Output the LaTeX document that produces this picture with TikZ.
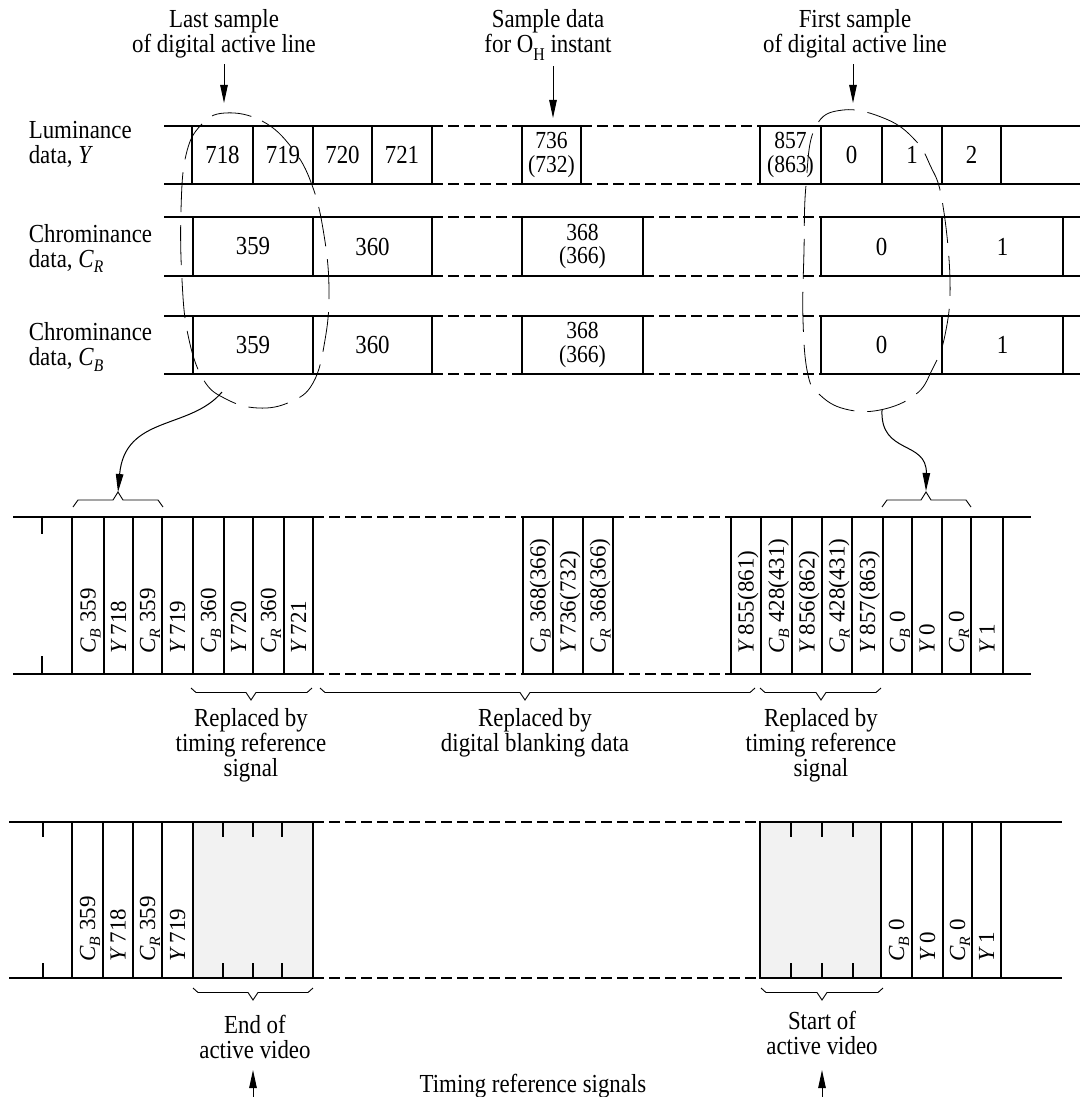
\documentclass[tikz,border=0pt]{standalone}
\usepackage{fontspec}
\setmainfont{Liberation Serif}[FakeStretch=0.88]
\newfontfamily\rotfont{Liberation Serif}
\usetikzlibrary{arrows.meta}
\newcommand{\sbL}[1]{\raisebox{-0.22em}{\fontsize{0.68em}{0.68em}\selectfont\textit{#1}}}
\newcommand{\CB}{\textit{C}\sbL{B}}
\newcommand{\CR}{\textit{C}\sbL{R}}
\newcommand{\YY}{\textit{Y}\,}
\newcommand{\braceDown}[4]{\draw[thinl] (#1,#4) -- ({#1+5},{#4+4.5}) -- ({#3-5},{#4+4.5}) -- (#3,{#4+12}) -- ({#3+5},{#4+4.5}) -- ({#2-5},{#4+4.5}) -- (#2,#4);}
\newcommand{\braceUp}[4]{\draw[thinl] (#1,#4) -- ({#1+5},{#4-7}) -- ({#3-5},{#4-7}) -- (#3,{#4-15}) -- ({#3+5},{#4-7}) -- ({#2-5},{#4-7}) -- (#2,#4);}
\begin{document}
\begin{tikzpicture}[x=1pt,y=-1pt,
  thk/.style={line width=2.6pt},
  vthk/.style={line width=2.6pt, line cap=rect},
  dsh/.style={line width=2.6pt, dash pattern=on 11pt off 5pt},
  ell/.style={line width=0.8pt, dash pattern=on 40pt off 13pt},
  thinl/.style={line width=0.9pt},
  arr/.style={line width=1pt, -{Triangle[length=18pt,width=7.5pt]}},
  txt/.style={font=\fontsize{26}{25}\selectfont, inner sep=0pt, align=center},
  num/.style={font=\fontsize{26}{23}\selectfont, inner sep=0pt, align=center},
  num2/.style={font=\fontsize{24.5}{23.5}\selectfont, inner sep=0pt, align=center},
  rot/.style={font=\rotfont\fontsize{23}{23}\selectfont, inner sep=0pt, rotate=90, anchor=base west},
  graybox/.style={fill=black!5, draw=none}]
\useasboundingbox (0,0) rectangle (1080,1097);

% ---------- top labels ----------
\node[txt, anchor=north] (lastlbl) at (224,9) {Last sample\\of digital active line};
\node[txt, anchor=north] (smplbl) at (548,9) {Sample data\\for O\raisebox{-0.3em}{\fontsize{18}{18}\selectfont H} instant};
\node[txt, anchor=north] (firstlbl) at (855,9) {First sample\\of digital active line};
\coordinate (tA) at (224,103);
\coordinate (tB) at (553,118);
\coordinate (tC) at (853,103);
\draw[arr, shorten <=6pt] (tA |- lastlbl.south) -- (tA);
\draw[arr, shorten <=6pt] (tB |- smplbl.south) -- (tB);
\draw[arr, shorten <=6pt] (tC |- firstlbl.south) -- (tC);

% ---------- row labels ----------
\node[txt, align=left, anchor=north west] (lumlbl) at (28.6,121) {Luminance\\data, \textit{Y}};
\node[txt, align=left, anchor=north west] (crlbl) at (28.6,224) {Chrominance\\data, \CR};
\node[txt, align=left, anchor=north west] (cblbl) at (28.6,322.5) {Chrominance\\data, \CB};

% ---------- Y row ----------
\foreach \a/\b/\s in {164/432/thk, 432/522/dsh, 522/581/thk, 581/760/dsh, 760/1080/thk}
  {\draw[\s] (\a,126) -- (\b,126); \draw[\s] (\a,184) -- (\b,184);}
\foreach \x in {192,253,313,372,432,522,581,760,821,882,942,1001}
  \draw[vthk] (\x,126) -- (\x,184);
\node[num] (y718) at (222.5,155) {718};
\node[num] (y719) at (283,155) {719};
\node[num] (y720) at (342.5,155) {720};
\node[num] (y721) at (402,155) {721};
\node[num2] (y736) at (551.5,155) {736\\(732)};
\node[num2] (y857) at (790.5,155) {857\\(863)};
\node[num] (y0) at (851.5,155) {0};
\node[num] (y1) at (912,155) {1};
\node[num] (y2) at (971.5,155) {2};

% ---------- CR row ----------
\foreach \a/\b/\s in {164/432/thk, 432/522/dsh, 522/643/thk, 643/821/dsh, 821/1080/thk}
  {\draw[\s] (\a,217) -- (\b,217); \draw[\s] (\a,276) -- (\b,276);}
\foreach \x in {193,313,432,522,643,821,942,1063}
  \draw[vthk] (\x,217) -- (\x,276);
\node[num] (r359) at (253,246.5) {359};
\node[num] (r360) at (372.5,246.5) {360};
\node[num2] (r368) at (582.5,246.5) {368\\(366)};
\node[num] (r0) at (881.5,246.5) {0};
\node[num] (r1) at (1002.5,246.5) {1};

% ---------- CB row ----------
\foreach \a/\b/\s in {164/432/thk, 432/522/dsh, 522/643/thk, 643/821/dsh, 821/1080/thk}
  {\draw[\s] (\a,316) -- (\b,316); \draw[\s] (\a,374) -- (\b,374);}
\foreach \x in {193,313,432,522,643,821,942,1063}
  \draw[vthk] (\x,316) -- (\x,374);
\node[num] (b359) at (253,345) {359};
\node[num] (b360) at (372.5,345) {360};
\node[num2] (b368) at (582.5,345) {368\\(366)};
\node[num] (b0) at (881.5,345) {0};
\node[num] (b1) at (1002.5,345) {1};

% ---------- dashed ellipses ----------
\draw[ell] plot[smooth cycle, tension=0.7] coordinates {(225,113) (262,121) (292,148) (312,185) (324,235) (329,290) (325,340) (313,383) (290,402) (258,408) (226,399) (203,379) (188,335) (182,280) (181,210) (186,155) (201,125)};
\draw[ell] plot[smooth cycle, tension=0.7] coordinates {(843,110) (886,119) (915,140) (930,165) (942,200) (950,280) (945,335) (932,370) (915,395) (880,410) (845,409) (820,395) (808,375) (803,320) (804,250) (806,185) (815,128)};

% ---------- connectors to multiplexed row ----------
\coordinate (ellL) at (222,392);
\coordinate (brL) at (118,492);
\coordinate (ellR) at (882,410);
\coordinate (brR) at (926,491);
\draw[arr] (ellL) .. controls (190,430) and (125,415) .. (brL);
\draw[arr] (ellR) .. controls (880,455) and (927,440) .. (brR);
\braceUp{73}{163}{118}{507}
\braceUp{882}{971}{926}{507}

% ---------- multiplexed row ----------
\foreach \a/\b/\s in {13/313/thk, 313/523/dsh, 523/613/thk, 613/731/dsh, 731/1031/thk}
  {\draw[\s] (\a,517) -- (\b,517); \draw[\s] (\a,674) -- (\b,674);}
\foreach \x in {72,104,133,162,193,224,253,284,313,523,553,583,613,731,761,792,822,852,883,912,942,971,1003}
  \draw[vthk] (\x,517) -- (\x,674);
\draw[vthk] (42,517) -- (42,533);
\draw[vthk] (42,657) -- (42,674);
\foreach \xc/\t [count=\i] in {88/{\CB\ 359}, 118.5/{\YY718}, 147.5/{\CR\ 359}, 177.5/{\YY719},
   208.5/{\CB\ 360}, 238.5/{\YY720}, 268.5/{\CR\ 360}, 298.5/{\YY721},
   538/{\CB\ 368(366)}, 568/{\YY736(732)}, 598/{\CR\ 368(366)},
   746/{\YY855(861)}, 776.5/{\CB\ 428(431)}, 807/{\YY856(862)}, 837/{\CR\ 428(431)}, 867.5/{\YY857(863)},
   897.5/{\CB\ 0}, 927/{\YY0}, 956.5/{\CR\ 0}, 987/{\YY1}}
  \node[rot] (m\i) at (\xc+7.5,654) {\t};

\braceDown{191}{312}{251}{688}
\braceDown{320}{755}{525}{688}
\braceDown{760}{881}{821}{688}
\node[txt, anchor=north] (rep1) at (251,708) {Replaced by\\timing reference\\signal};
\node[txt, anchor=north] (rep2) at (535,708) {Replaced by\\digital blanking data};
\node[txt, anchor=north] (rep3) at (821,708) {Replaced by\\timing reference\\signal};

% ---------- timing reference row ----------
\fill[graybox] (193,822) rectangle (313,978);
\fill[graybox] (760,822) rectangle (881,978);
\foreach \a/\b/\s in {9/313/thk, 313/760/dsh, 760/1062/thk}
  {\draw[\s] (\a,822) -- (\b,822); \draw[\s] (\a,978) -- (\b,978);}
\foreach \x in {72,103,133,162,193,313,760,881,912,943,972,1001}
  \draw[vthk] (\x,822) -- (\x,978);
\foreach \x in {43,223,253,282,791,822,853}
  {\draw[vthk] (\x,822) -- (\x,836); \draw[vthk] (\x,964) -- (\x,978);}
\foreach \xc/\t [count=\i] in {87.5/{\CB\ 359}, 118/{\YY718}, 147.5/{\CR\ 359}, 177.5/{\YY719},
   896.5/{\CB\ 0}, 927.5/{\YY0}, 957.5/{\CR\ 0}, 986.5/{\YY1}}
  \node[rot] (t\i) at (\xc+7.5,962) {\t};

\braceDown{193}{313}{253}{988}
\braceDown{761}{883}{822}{988}
\node[txt, anchor=north] (endlbl) at (255,1015) {End of\\active video};
\node[txt, anchor=north] (startlbl) at (822,1011) {Start of\\active video};
\node[txt, anchor=north] (trs) at (533,1074) {Timing reference signals};
\coordinate (eA) at (253,1097);
\coordinate (sA) at (822,1097);
\draw[arr] (eA) -- (253,1070);
\draw[arr] (sA) -- (822,1070);
\end{tikzpicture}
\end{document}
